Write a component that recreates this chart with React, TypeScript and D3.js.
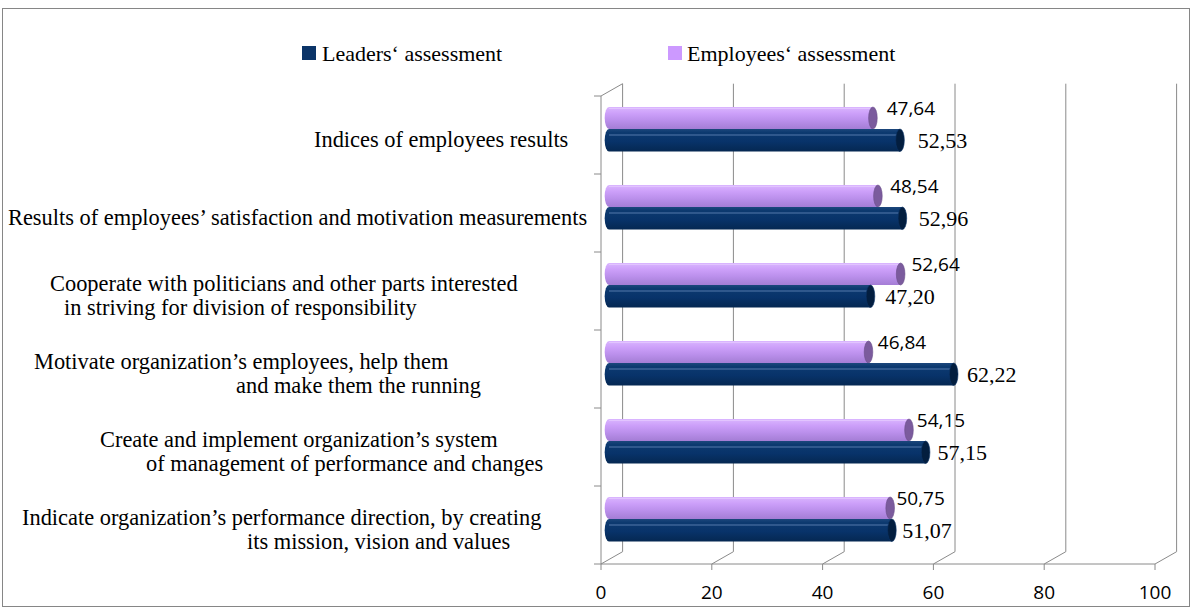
import React from "react";
import * as d3 from "d3";

// ---------- data ----------
const categoryLines: string[][] = [
  ["Indices of employees results"],
  ["Results of employees’ satisfaction and motivation measurements"],
  ["Cooperate with politicians and other parts interested", "in striving for division of responsibility"],
  ["Motivate organization’s employees, help them", "and make them the running"],
  ["Create and implement organization’s system", "of management of performance and changes"],
  ["Indicate organization’s performance direction, by creating", "its mission, vision and values"],
];
const categoryKeys = ["Indices", "Results", "Cooperate", "Motivate", "Create", "Indicate"];
const leadersValues = [52.53, 52.96, 47.2, 62.22, 57.15, 51.07];
const employeesValues = [47.64, 48.54, 52.64, 46.84, 54.15, 50.75];
const seriesNames = ["Leaders‘ assessment", "Employees‘ assessment"];
const xTicks = [0, 20, 40, 60, 80, 100];

// ---------- layout ----------
const W = 1192;
const H = 615;
const LABEL_LINE_X = [[314], [8], [50, 64], [34, 236], [100, 146], [22, 247]];
const DEPTH_DX = 21.6;
const DEPTH_DY = -12.3;
const BAR_DX = 8;
const CAP_RX = 4.3;
const GRID = "#8a8a8a";
const SERIF = "'Liberation Serif', 'Times New Roman', serif";
const SANS = "'Open Sans', 'Noto Sans', sans-serif";

const fmt = (v: number) => d3.format(".2f")(v).replace(".", ",");

export default function App() {
  const x = d3.scaleLinear().domain([0, 100]).range([601, 1155]);
  const y = d3.scaleBand<string>().domain(categoryKeys).range([96, 564]).paddingInner(0).paddingOuter(0);
  const bw = y.bandwidth();
  const floorY = 564;
  const topY = 96;

  const barPath = (x0: number, x1: number, y0: number, h: number) => {
    const ry = h / 2;
    return `M${x0},${y0} L${x1},${y0} L${x1},${y0 + h} L${x0},${y0 + h} A${CAP_RX},${ry} 0 0 1 ${x0},${y0} Z`;
  };

  return (
    <svg width={W} height={H} style={{ position: "absolute", left: 0, top: 0, background: "#fff" }}>
      <defs>
        <linearGradient id="pg" x1="0" y1="0" x2="0" y2="1">
          <stop offset="0" stopColor="#dab6ff" />
          <stop offset="0.3" stopColor="#cc9ff9" />
          <stop offset="0.6" stopColor="#bb90ec" />
          <stop offset="1" stopColor="#a47dd5" />
        </linearGradient>
        <linearGradient id="ng" x1="0" y1="0" x2="0" y2="1">
          <stop offset="0" stopColor="#1c477c" />
          <stop offset="0.15" stopColor="#0d3a70" />
          <stop offset="0.55" stopColor="#08336a" />
          <stop offset="1" stopColor="#052852" />
        </linearGradient>
      </defs>
      <rect x={2.5} y={8.5} width={1187} height={598} fill="#fff" stroke="#868686" strokeWidth={1} />

      {/* legend */}
      <g>
        <rect x={302} y={46} width={14} height={14} fill="#0b3468" />
        <text x={322} y={53} dominantBaseline="central" fontFamily={SERIF} fontSize={22} fill="#000">
          {seriesNames[0]}
        </text>
        <rect x={668} y={46} width={14} height={14} fill="#cc99ff" />
        <text x={687} y={53} dominantBaseline="central" fontFamily={SERIF} fontSize={22} fill="#000">
          {seriesNames[1]}
        </text>
      </g>

      {/* walls and gridlines */}
      <g stroke={GRID} strokeWidth={1} fill="none">
        {xTicks.map((t) => (
          <g key={t}>
            <line x1={x(t) + DEPTH_DX} x2={x(t) + DEPTH_DX} y1={topY + DEPTH_DY} y2={floorY + DEPTH_DY} />
            <line x1={x(t)} y1={floorY} x2={x(t) + DEPTH_DX} y2={floorY + DEPTH_DY} />
            <line x1={x(t)} x2={x(t)} y1={floorY} y2={floorY + 6} />
          </g>
        ))}
        <line x1={x(0)} x2={x(100)} y1={floorY} y2={floorY} />
        <line x1={x(0)} x2={x(0)} y1={topY} y2={floorY} />
        <line x1={x(0)} y1={topY} x2={x(0) + DEPTH_DX} y2={topY + DEPTH_DY} />
        {[...categoryKeys.map((k) => y(k) as number), floorY].map((yy, i) => (
          <line key={i} x1={x(0) - 7} x2={x(0)} y1={yy} y2={yy} />
        ))}
      </g>

      {/* category labels */}
      <g fontFamily={SERIF} fontSize={22.4} fill="#000">
        {categoryKeys.map((k, i) => {
          const lines = categoryLines[i];
          const cy = (y(k) as number) + bw / 2 + 4;
          return lines.map((ln, j) => (
            <text key={k + j} x={LABEL_LINE_X[i][j]} y={cy + (j - (lines.length - 1) / 2) * 24} dominantBaseline="central">
              {ln}
            </text>
          ));
        })}
      </g>

      {/* x tick labels */}
      <g fontFamily={SANS} fontSize={19} fill="#000" textAnchor="middle">
        {xTicks.map((t) => (
          <text key={t} x={x(t)} y={592} dominantBaseline="central">
            {t}
          </text>
        ))}
      </g>

      {/* bars */}
      {categoryKeys.map((k, i) => {
        const top = y(k) as number;
        const ev = employeesValues[i];
        const lv = leadersValues[i];
        const x0 = x(0) + BAR_DX;
        const pe = x(ev) + BAR_DX;
        const le = x(lv) + BAR_DX;
        const py = top + 11;
        const ph = 22;
        const ny = top + 33;
        const nh = 22.5;
        const offP = 2 + (5 - i) * 1.5;
        const offN = 6 + (5 - i) * 1.5;
        return (
          <g key={k}>
            <path d={barPath(x0, pe, py, ph)} fill="url(#pg)" />
            <line x1={x0} x2={pe} y1={py + 1.5} y2={py + 1.5} stroke="#e2c4ff" strokeWidth={1} />
            <ellipse cx={pe} cy={py + ph / 2} rx={CAP_RX} ry={ph / 2} fill="#7b5b9d" stroke="#6a4d8a" strokeWidth={0.6} />
            <path d={barPath(x0, le, ny, nh)} fill="url(#ng)" />
            <line x1={x0} x2={le} y1={ny + 6} y2={ny + 6} stroke="#6f8fc0" strokeOpacity={0.75} strokeWidth={1} />
            <ellipse cx={le} cy={ny + nh / 2} rx={CAP_RX} ry={nh / 2} fill="#031e3f" stroke="#0b3468" strokeWidth={0.6} />
            <text x={pe + CAP_RX + offP} y={py + ph / 2 - 10} dominantBaseline="central" fontFamily={SANS} fontSize={19} fill="#000">
              {fmt(ev)}
            </text>
            <text x={le + CAP_RX + offN} y={ny + nh / 2} dominantBaseline="central" fontFamily={SERIF} fontSize={22} fill="#000">
              {fmt(lv)}
            </text>
          </g>
        );
      })}
    </svg>
  );
}
